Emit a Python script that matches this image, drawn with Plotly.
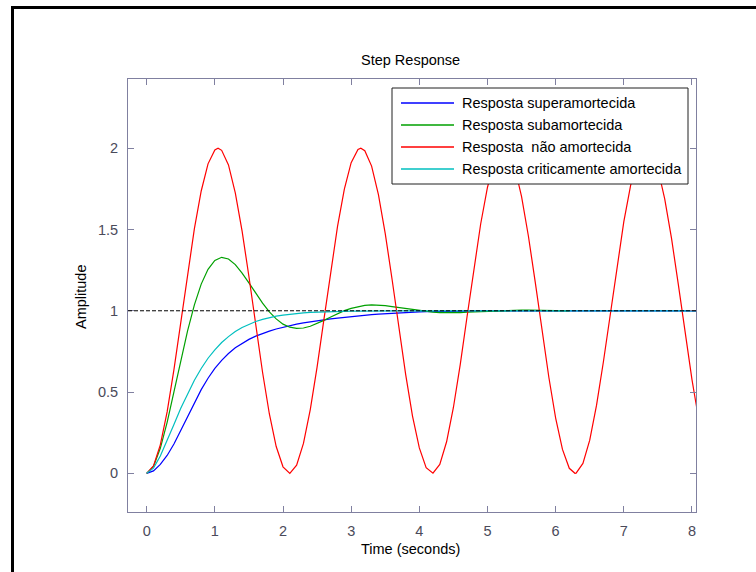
import plotly.graph_objects as go

# ---------------- data ----------------
time_s = [0.0, 0.1, 0.2, 0.3, 0.4, 0.5, 0.6, 0.7, 0.8, 0.9,
          1.0, 1.1, 1.2, 1.3, 1.4, 1.5, 1.6, 1.7, 1.8, 1.9,
          2.0, 2.1, 2.2, 2.3, 2.4, 2.5, 2.6, 2.7, 2.8, 2.9,
          3.0, 3.1, 3.2, 3.3, 3.4, 3.5, 3.6, 3.7, 3.8, 3.9,
          4.0, 4.1, 4.2, 4.3, 4.4, 4.5, 4.6, 4.7, 4.8, 4.9,
          5.0, 5.1, 5.2, 5.3, 5.4, 5.5, 5.6, 5.7, 5.8, 5.9,
          6.0, 6.1, 6.2, 6.3, 6.4, 6.5, 6.6, 6.7, 6.8, 6.9,
          7.0, 7.1, 7.2, 7.3, 7.4, 7.5, 7.6, 7.7, 7.8, 7.9,
          8.0, 8.1]

resp_superamortecida = [0.000, 0.015, 0.055, 0.110, 0.180, 0.265, 0.350, 0.435, 0.515, 0.585,
                        0.645, 0.695, 0.737, 0.772, 0.800, 0.824, 0.844, 0.861, 0.875, 0.888,
                        0.899, 0.909, 0.918, 0.926, 0.933, 0.940, 0.945, 0.950, 0.955, 0.960,
                        0.965, 0.969, 0.973, 0.976, 0.979, 0.982, 0.985, 0.987, 0.989, 0.991,
                        0.993, 0.995, 0.996, 0.997, 0.998, 0.998, 0.999, 0.999, 0.999, 1.000,
                        1.000, 1.000, 1.000, 1.000, 1.000, 1.000, 1.000, 1.000, 1.000, 1.000,
                        1.000, 1.000, 1.000, 1.000, 1.000, 1.000, 1.000, 1.000, 1.000, 1.000,
                        1.000, 1.000, 1.000, 1.000, 1.000, 1.000, 1.000, 1.000, 1.000, 1.000,
                        1.000, 1.000]

resp_subamortecida = [0.000, 0.042, 0.154, 0.314, 0.501, 0.694, 0.877, 1.036, 1.164, 1.255,
                      1.310, 1.329, 1.319, 1.284, 1.232, 1.172, 1.108, 1.047, 0.993, 0.950,
                      0.918, 0.899, 0.892, 0.894, 0.905, 0.922, 0.941, 0.962, 0.983, 1.001,
                      1.015, 1.026, 1.033, 1.036, 1.035, 1.032, 1.026, 1.020, 1.013, 1.006,
                      1.000, 0.995, 0.992, 0.989, 0.988, 0.989, 0.989, 0.991, 0.993, 0.995,
                      0.997, 0.999, 1.001, 1.002, 1.003, 1.004, 1.004, 1.004, 1.003, 1.002,
                      1.002, 1.001, 1.000]

# undamped response has its own (denser near the extrema) time samples
time_nao = [0.0, 0.1, 0.2, 0.3, 0.4, 0.5, 0.6, 0.7, 0.8, 0.9,
            1.0, 1.047, 1.1, 1.2, 1.3, 1.4, 1.5, 1.6, 1.7, 1.8, 1.9,
            2.0, 2.094, 2.1, 2.2, 2.3, 2.4, 2.5, 2.6, 2.7, 2.8, 2.9,
            3.0, 3.1, 3.142, 3.2, 3.3, 3.4, 3.5, 3.6, 3.7, 3.8, 3.9,
            4.0, 4.1, 4.189, 4.2, 4.3, 4.4, 4.5, 4.6, 4.7, 4.8, 4.9,
            5.0, 5.1, 5.2, 5.236, 5.3, 5.4, 5.5, 5.6, 5.7, 5.8, 5.9,
            6.0, 6.1, 6.2, 6.283, 6.3, 6.4, 6.5, 6.6, 6.7, 6.8, 6.9,
            7.0, 7.1, 7.2, 7.3, 7.330, 7.4, 7.5, 7.6, 7.7, 7.8, 7.9,
            8.0, 8.1]
resp_nao_amortecida = [0.000, 0.045, 0.175, 0.378, 0.638, 0.929, 1.227, 1.505, 1.737, 1.904,
                       1.990, 2.000, 1.987, 1.897, 1.726, 1.490, 1.211, 0.913, 0.622, 0.365, 0.165,
                       0.040, 0.000, 0.000, 0.050, 0.184, 0.392, 0.653, 0.946, 1.244, 1.519, 1.749,
                       1.911, 1.992, 2.000, 1.985, 1.890, 1.714, 1.475, 1.194, 0.896, 0.607, 0.352,
                       0.156, 0.035, 0.000, 0.001, 0.055, 0.194, 0.405, 0.669, 0.963, 1.260, 1.534,
                       1.760, 1.918, 1.994, 2.000, 1.982, 1.882, 1.702, 1.460, 1.178, 0.879, 0.591,
                       0.340, 0.147, 0.031, 0.000, 0.001, 0.061, 0.204, 0.419, 0.685, 0.980, 1.276,
                       1.548, 1.771, 1.925, 1.996, 2.000, 1.979, 1.873, 1.689, 1.445, 1.161, 0.863,
                       0.576, 0.328]

resp_criticamente = [0.000, 0.032, 0.106, 0.200, 0.301, 0.400, 0.491, 0.573, 0.645, 0.708,
                     0.760, 0.805, 0.841, 0.872, 0.897, 0.917, 0.934, 0.947, 0.958, 0.967,
                     0.973, 0.979, 0.983, 0.987, 0.990, 0.992, 0.994, 0.995, 0.996, 0.997,
                     0.998, 0.998, 0.999, 0.999, 0.999, 1.000, 1.000, 1.000, 1.000, 1.000,
                     1.000, 1.000, 1.000, 1.000, 1.000, 1.000, 1.000, 1.000, 1.000, 1.000,
                     1.000, 1.000, 1.000, 1.000, 1.000, 1.000, 1.000, 1.000, 1.000, 1.000,
                     1.000, 1.000, 1.000, 1.000, 1.000, 1.000, 1.000, 1.000, 1.000, 1.000,
                     1.000, 1.000, 1.000, 1.000, 1.000, 1.000, 1.000, 1.000, 1.000, 1.000,
                     1.000, 1.000]

series_names = ["Resposta superamortecida",
                "Resposta subamortecida",
                "Resposta\u00a0 não amortecida",
                "Resposta criticamente amortecida"]
series_times = [time_s, time_s, time_nao, time_s]
series_values = [resp_superamortecida, resp_subamortecida,
                 resp_nao_amortecida, resp_criticamente]
series_colors = ["#0000ff", "#00a000", "#ff0000", "#00bfbf"]

x_ticks = [0, 1, 2, 3, 4, 5, 6, 7, 8]
y_ticks = [0, 0.5, 1, 1.5, 2]
y_tick_labels = ["0", "0.5", "1", "1.5", "2"]
final_value = 1.0

title_text = "Step Response"
x_title = "Time (seconds)"
y_title = "Amplitude"

# ---------------- layout geometry (pixels) ----------------
W, H = 756, 572
L, R, T, B = 128, 696, 79, 512
FONT = "Liberation Sans, Arial, sans-serif"
FS = 14.5
AXIS_COLOR = "#8080a0"
TICK_TEXT = "#4a4a5a"


def px(x):
    return (x - L) / (R - L)


def py(y):
    return (B - y) / (B - T)


fig = go.Figure()
for name, tt, vals, col in zip(series_names, series_times, series_values, series_colors):
    fig.add_trace(go.Scatter(x=tt[:len(vals)], y=vals, mode="lines",
                             name=name, showlegend=False,
                             line=dict(color=col, width=1.2)))

shapes = []
# steady-state dashed line
shapes.append(dict(type="line", xref="paper", x0=0, x1=1, yref="y",
                   y0=final_value, y1=final_value, layer="above",
                   line=dict(color="black", width=1, dash="4px,2px")))
# outer document frame
shapes.append(dict(type="rect", xref="paper", yref="paper",
                   x0=px(12.5), x1=px(770), y0=py(7.5), y1=py(590),
                   line=dict(color="black", width=3), fillcolor="rgba(0,0,0,0)",
                   layer="above"))
# legend box
shapes.append(dict(type="rect", xref="paper", yref="paper",
                   x0=px(392), x1=px(688), y0=py(88), y1=py(184),
                   line=dict(color="#202020", width=1), fillcolor="white",
                   layer="above"))
row_y = [103, 125, 147, 169]
annotations = []
for name, col, ry in zip(series_names, series_colors, row_y):
    shapes.append(dict(type="line", xref="paper", yref="paper",
                       x0=px(401), x1=px(454), y0=py(ry), y1=py(ry),
                       line=dict(color=col, width=1.4), layer="above"))
    annotations.append(dict(xref="paper", yref="paper", x=px(460), y=py(ry),
                            text=name, showarrow=False, xanchor="left",
                            yanchor="middle",
                            font=dict(family=FONT, size=FS, color="black")))

annotations.append(dict(xref="paper", yref="paper", x=px(410.5), y=py(60),
                        text=title_text, showarrow=False, xanchor="center",
                        yanchor="middle", font=dict(family=FONT, size=FS, color="black")))
annotations.append(dict(xref="paper", yref="paper", x=px(410), y=py(549),
                        text=x_title, showarrow=False, xanchor="center",
                        yanchor="middle", font=dict(family=FONT, size=FS, color="black")))
annotations.append(dict(xref="paper", yref="paper", x=px(81), y=py(297),
                        text=y_title, showarrow=False, xanchor="center",
                        yanchor="middle", textangle=-90,
                        font=dict(family=FONT, size=FS, color="black")))

axis_common = dict(showgrid=False, zeroline=False, showline=True,
                   linecolor=AXIS_COLOR, linewidth=1, mirror="ticks",
                   ticks="inside", ticklen=6, tickwidth=1, tickcolor=AXIS_COLOR,
                   tickfont=dict(family=FONT, size=FS, color=TICK_TEXT))

fig.update_layout(
    width=W, height=H,
    margin=dict(l=L, r=W - R, t=T, b=H - B, pad=0),
    paper_bgcolor="white", plot_bgcolor="white",
    xaxis=dict(range=[-0.274, 8.059], tickvals=x_ticks,
               ticktext=[str(v) for v in x_ticks], ticklabelstandoff=6,
               **axis_common),
    yaxis=dict(range=[-0.238, 2.426], tickvals=y_ticks,
               ticktext=y_tick_labels, ticklabelstandoff=6,
               **axis_common),
    shapes=shapes,
    annotations=annotations,
    showlegend=False,
)

fig.write_html("out.html")
